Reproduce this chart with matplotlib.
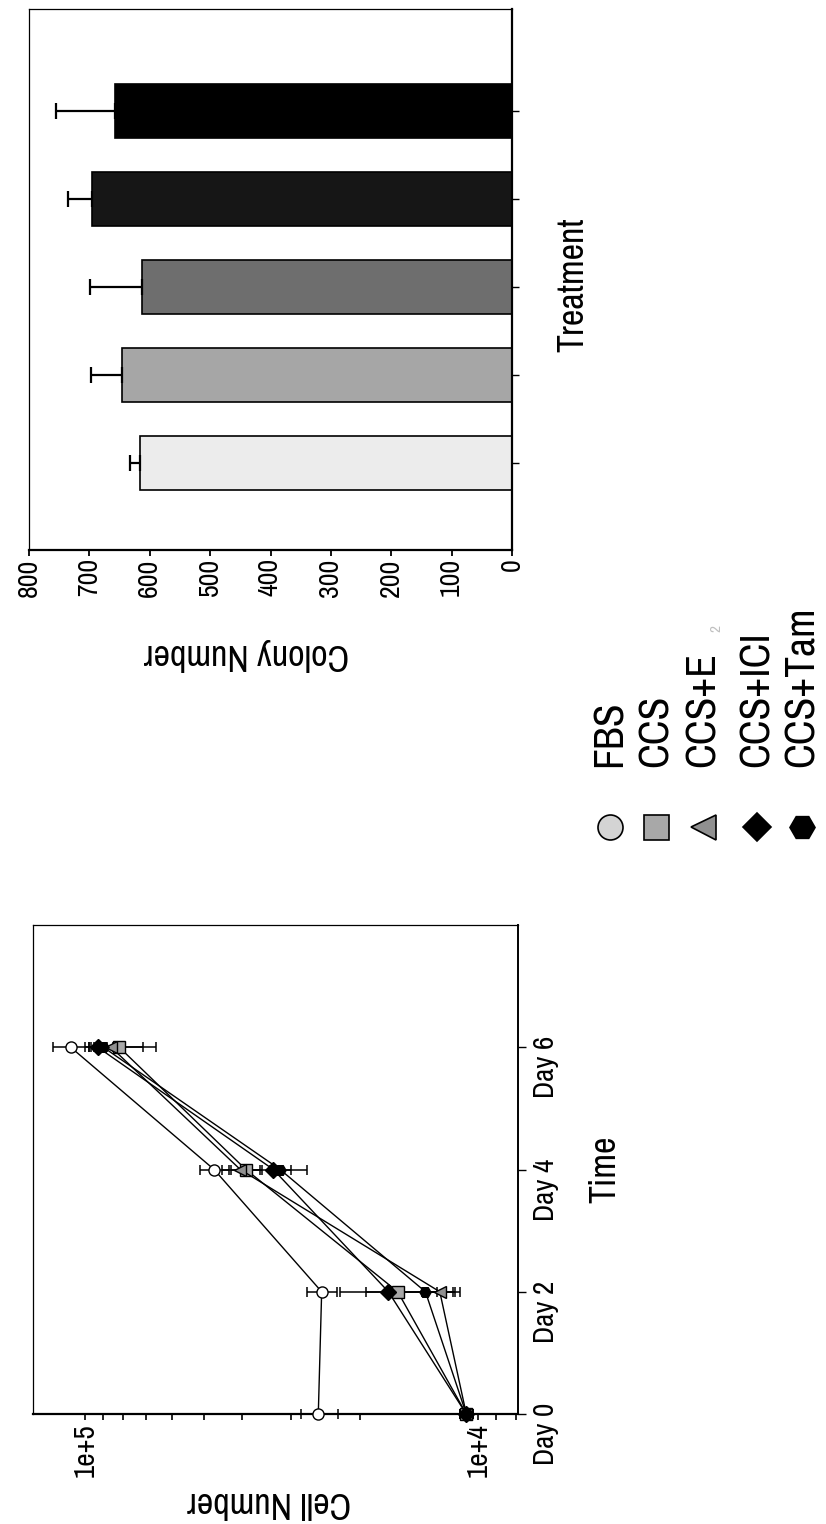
import matplotlib
matplotlib.use("Agg")
import matplotlib.pyplot as plt
from matplotlib import font_manager
from matplotlib.ticker import LogLocator, NullFormatter, FixedLocator

# fuente estrecha si existe
nombres = {f.name for f in font_manager.fontManager.ttflist}
if "Archivo Narrow" in nombres:
    plt.rcParams["font.family"] = ["Archivo Narrow", "DejaVu Sans"]
    k = 1.0
else:
    plt.rcParams["font.family"] = ["Liberation Sans", "DejaVu Sans"]
    k = 0.85

# Datos
tratamientos = ["FBS", "CCS", "CCS+E", "CCS+ICI", "CCS+Tam"]
colonias = [616, 646, 613, 695, 657]
colonias_err = [16, 51, 86, 40, 98]

dias = [0, 2, 4, 6]
dia_labels = ["Day 0", "Day 2", "Day 4", "Day 6"]
cel_fbs = [2.55e4, 2.5e4, 4.7e4, 1.09e5]
cel_ccs = [1.07e4, 1.60e4, 3.9e4, 8.2e4]
cel_e2 = [1.07e4, 1.25e4, 4.03e4, 8.6e4]
cel_ici = [1.07e4, 1.69e4, 3.32e4, 9.3e4]
cel_tam = [1.07e4, 1.36e4, 3.19e4, 9.0e4]
err_fbs = [2.8e3, 2.2e3, 4.0e3, 1.2e4]
err_ccs = [4e2, 3.3e3, 3.5e3, 1.6e4]
err_e2 = [4e2, 1.4e3, 4.5e3, 1.45e4]
err_ici = [4e2, 5.5e3, 6.0e3, 5e3]
err_tam = [4e2, 2.0e3, 2.0e3, 5e3]

# estilos
marcadores = ["o", "s", "<", "D", "H"]
tam_leyenda = [18, 18, 18, 14, 18]
relleno_linea = ["white", "#a8a8a8", "#909090", "black", "black"]
relleno_leyenda = ["#d4d4d4", "#a8a8a8", "#909090", "black", "black"]
colores_barra = ["#ececec", "#a6a6a6", "#6e6e6e", "#161616", "#000000"]

W, H = 826, 1524
fig = plt.figure(figsize=(W / 100, H / 100), dpi=100)

def caja(x0, y0, x1, y1):
    # pixeles (origen arriba-izquierda) -> coords de figura
    return [x0 / W, 1 - y1 / H, (x1 - x0) / W, (y1 - y0) / H]

# ---------------- Barras (arriba) ----------------
axb = fig.add_axes(caja(29, 9, 512, 550))
pos = list(range(len(tratamientos)))
axb.barh(pos, colonias, height=0.61, color=colores_barra, edgecolor="black", linewidth=1.2, zorder=2)
axb.errorbar(colonias, pos, xerr=[[0] * 5, colonias_err], fmt="none", ecolor="black",
             elinewidth=1.6, capsize=6, capthick=1.6, zorder=3)
axb.set_xlim(800, 0)
axb.set_ylim(-0.99, 5.16)
axb.set_xticks(range(0, 801, 100))
axb.yaxis.tick_right()
axb.set_yticks(pos)
axb.set_yticklabels([])
axb.tick_params(axis="x", direction="out", length=4, width=1.3, labelrotation=90,
                labelsize=20 * k, pad=2)
axb.tick_params(axis="y", direction="out", length=5, width=1.0)
for lado, lw in [("top", 0.9), ("left", 0.9), ("bottom", 1.6), ("right", 1.6)]:
    axb.spines[lado].set_linewidth(lw)
axb.set_xlabel("Colony Number", fontsize=26 * k, rotation=180, va="center", ha="center")
axb.xaxis.set_label_coords(0.451, -0.194)
axb.yaxis.set_label_position("right")
axb.set_ylabel("Treatment", fontsize=26 * k, rotation=90, va="center", ha="center")
axb.yaxis.set_label_coords(1.126, 0.49)

# ---------------- Leyenda (centro) ----------------
axl = fig.add_axes([0, 0, 1, 1])
axl.set_xlim(0, W)
axl.set_ylim(H, 0)
axl.axis("off")
x_ley = [610, 656, 703, 757, 802]
for i, nombre in enumerate(tratamientos):
    axl.plot(x_ley[i], 827, marker=marcadores[i], markersize=tam_leyenda[i],
             markerfacecolor=relleno_leyenda[i], markeredgecolor="black", markeredgewidth=1.2,
             linestyle="none")
    axl.text(x_ley[i], 767, nombre, rotation=90, ha="center", va="bottom", fontsize=30 * k)
axl.text(716, 632, "2", rotation=90, ha="center", va="bottom", fontsize=11, color="#c0c0c0")

# ---------------- Lineas (abajo) ----------------
ax = fig.add_axes(caja(33, 925, 518, 1414))
series = [(cel_fbs, err_fbs), (cel_ccs, err_ccs), (cel_e2, err_e2), (cel_ici, err_ici), (cel_tam, err_tam)]
for i, (vals, errs) in enumerate(series):
    ax.errorbar(vals, dias, xerr=errs, fmt="none", ecolor="black", elinewidth=1.1,
                capsize=3.5, capthick=1.1, clip_on=False, zorder=2)
    ax.plot(vals, dias, color="black", linewidth=1.0, marker=marcadores[i], markersize=8,
            markerfacecolor=relleno_linea[i], markeredgecolor="black", markeredgewidth=1.0,
            clip_on=False, zorder=3)
ax.set_xscale("log")
ax.set_xlim(1.36e5, 7.9e3)
ax.set_ylim(0, 8)
ax.xaxis.set_major_locator(FixedLocator([1e4, 1e5]))
ax.set_xticklabels(["1e+4", "1e+5"])
ax.xaxis.set_minor_locator(LogLocator(base=10, subs=range(2, 10)))
ax.xaxis.set_minor_formatter(NullFormatter())
ax.yaxis.tick_right()
ax.set_yticks(dias)
ax.set_yticklabels(dia_labels)
ax.tick_params(axis="x", which="both", direction="out", length=4, width=1.2, labelrotation=90,
               labelsize=21 * k, pad=3)
ax.tick_params(axis="y", direction="out", length=6, width=1.0, labelrotation=90,
               labelsize=21 * k, pad=4)
for lado, lw in [("top", 0.9), ("left", 0.9), ("bottom", 1.6), ("right", 1.4)]:
    ax.spines[lado].set_linewidth(lw)
ax.set_xlabel("Cell Number", fontsize=26 * k, rotation=180, va="center", ha="center")
ax.xaxis.set_label_coords(0.487, -0.182)
ax.yaxis.set_label_position("right")
ax.set_ylabel("Time", fontsize=26 * k, rotation=90, va="center", ha="center")
ax.yaxis.set_label_coords(1.179, 0.5)

fig.savefig("out.png", dpi=100)
